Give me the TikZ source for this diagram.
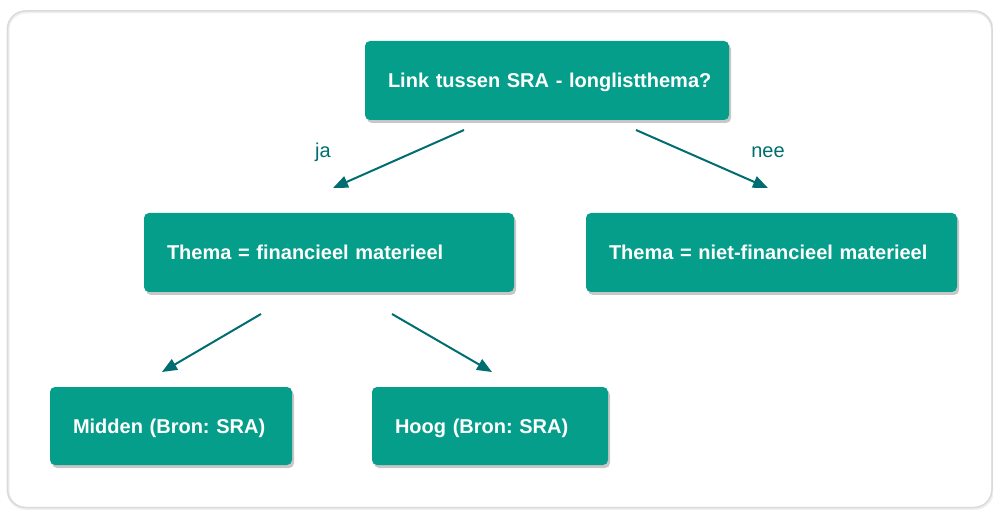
\documentclass[tikz,border=0pt]{standalone}
\usepackage{fontspec}
\setmainfont{Liberation Sans}
\usetikzlibrary{arrows.meta,shadows,calc}
\definecolor{boxteal}{HTML}{059E8B}
\definecolor{arrteal}{HTML}{006E70}
\definecolor{framegray}{HTML}{DADADA}
\frenchspacing
\begin{document}
\begin{tikzpicture}[x=1pt,y=-1pt,
  box/.style={rectangle, rounded corners=5pt, fill=boxteal, text=white,
    font=\fontsize{20}{24}\selectfont\bfseries, align=left,
    text height=14.3pt, text depth=0pt,
    inner xsep=23pt, inner ysep=0pt, minimum height=79pt,
    drop shadow={shadow xshift=2pt, shadow yshift=-3pt, opacity=0.22, fill=black}},
  arr/.style={draw=arrteal, line width=2pt, -{Triangle[length=15pt,width=12pt]}},
  lbl/.style={text=arrteal, font=\fontsize{20}{24}\selectfont, inner sep=0pt}]
\useasboundingbox (0,0) rectangle (993,510);
\fill[white] (0,0) rectangle (993,510);
\draw[black, opacity=0.06, line width=3pt, rounded corners=18pt] (8,12) rectangle (992.5,508.5);
\draw[framegray, line width=1.5pt, rounded corners=18pt] (7.5,11) rectangle (992,507.5);

\node[box, text width=318pt] (top) at (547,80.5) {\mbox{Link tussen SRA - longlistthema?}};
\node[box, text width=324pt] (finl) at (329,252.5) {\mbox{Thema = financieel materieel}};
\node[box, text width=325pt] (nfin) at (771.5,252.5) {\mbox{Thema = niet-financieel materieel}};
\node[box, text width=196pt, minimum height=78pt] (midden) at (171,426) {\mbox{Midden (Bron: SRA)}};
\node[box, text width=190pt, minimum height=78pt] (hoog) at (490,426) {\mbox{Hoog (Bron: SRA)}};

\coordinate (jaS) at (464,130);
\coordinate (jaE) at (333,188);
\coordinate (neeS) at (636,130);
\coordinate (neeE) at (768,188);
\coordinate (miS) at (261,314);
\coordinate (miE) at (162,372);
\coordinate (hoS) at (392,314);
\coordinate (hoE) at (492,372);

\draw[arr] (jaS) -- (jaE);
\draw[arr] (neeS) -- (neeE);
\draw[arr] (miS) -- (miE);
\draw[arr] (hoS) -- (hoE);

\node[lbl] (ja) at (323,152) {ja};
\node[lbl] (nee) at (768,152) {nee};
\end{tikzpicture}
\end{document}
